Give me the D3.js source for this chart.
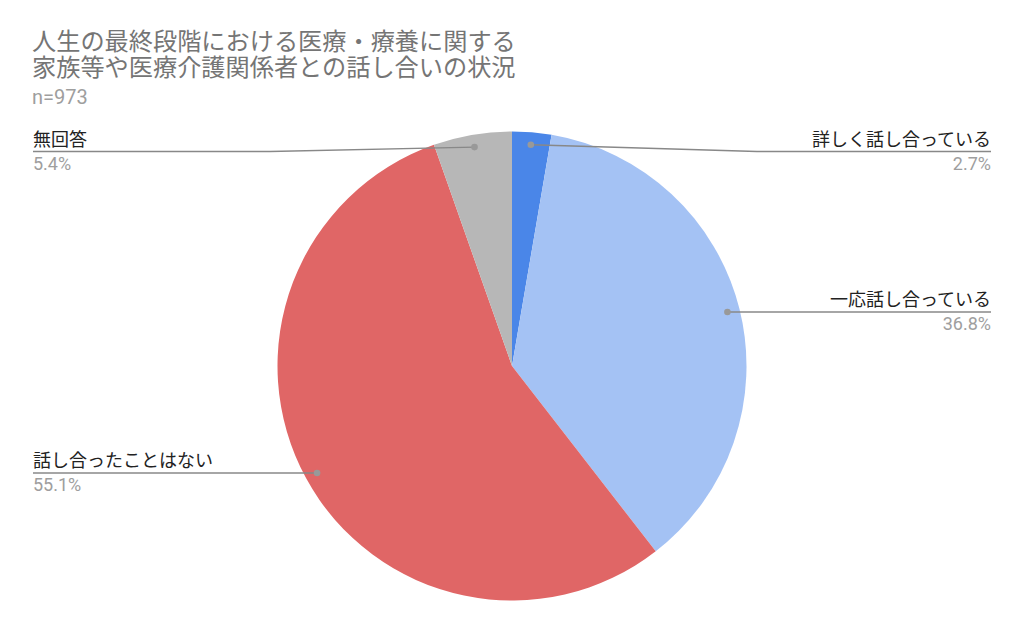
<!DOCTYPE html>
<html>
<head>
<meta charset="utf-8">
<script src="https://cdn.jsdelivr.net/npm/d3@7"></script>
<style>
  html, body { margin: 0; padding: 0; background: #fff; }
  svg { display: block; }
</style>
</head>
<body>
<svg id="chart" width="1024" height="633"></svg>
<script>
// Survey answers and their shares (%)
const categories = ["詳しく話し合っている", "一応話し合っている", "話し合ったことはない", "無回答"];
const values = [2.7, 36.8, 55.1, 5.4];
const colors = ["#4a86e8", "#a4c2f4", "#e06666", "#b7b7b7"];
const titleLines = ["人生の最終段階における医療・療養に関する", "家族等や医療介護関係者との話し合いの状況"];
const subtitle = "n=973";

const font = "'Roboto', 'Noto Sans CJK JP', sans-serif";
const svg = d3.select("#chart");

// Title block
svg.append("g").selectAll("text").data(titleLines).join("text")
  .attr("x", 32).attr("y", (d, i) => 50 + i * 25.5)
  .attr("font-family", font).attr("font-size", 24.2).attr("fill", "#757575")
  .text(d => d);
svg.append("text").attr("x", 32).attr("y", 104)
  .attr("font-family", font).attr("font-size", 20).attr("fill", "#9e9e9e")
  .text(subtitle);

// Pie
const cx = 512, cy = 366, r = 234.5;
const pie = d3.pie().sort(null).value(d => d.v);
const arcs = pie(categories.map((c, i) => ({ c, v: values[i], col: colors[i] })));
const arc = d3.arc().innerRadius(0).outerRadius(r);
const dotArc = d3.arc().innerRadius(r * 0.947).outerRadius(r * 0.947);

const g = svg.append("g").attr("transform", `translate(${cx},${cy})`);
g.selectAll("path").data(arcs).join("path")
  .attr("d", arc).attr("fill", d => d.data.col);

// Label layout: side and label line height for each slice
const labelSpec = [
  { side: "right", lineY: 151.5 },
  { side: "right", lineY: 312 },
  { side: "left", lineY: 473 },
  { side: "left", lineY: 151.5 }
];
const leftX = 33, rightX = 991;

const lab = svg.append("g");
arcs.forEach((a, i) => {
  const spec = labelSpec[i];
  const [dx, dy] = dotArc.centroid(a);
  const px = cx + dx, py = cy + dy;
  const endX = spec.side === "right" ? rightX : leftX;
  // Leader line: from dot, slanting to the label line if needed, then horizontal
  let pts;
  if (Math.abs(py - spec.lineY) > 2) {
    const kneeX = spec.side === "right" ? 757 : 270;
    pts = [[px, py], [kneeX, spec.lineY], [endX, spec.lineY]];
  } else {
    pts = [[px, spec.lineY], [endX, spec.lineY]];
  }
  lab.append("path")
    .attr("d", d3.line()(pts))
    .attr("fill", "none").attr("stroke", "#888").attr("stroke-width", 1.3);
  lab.append("circle").attr("cx", pts[0][0]).attr("cy", pts[0][1]).attr("r", 3.3).attr("fill", "#999");
  const anchor = spec.side === "right" ? "end" : "start";
  lab.append("text").attr("x", endX).attr("y", spec.lineY - 6)
    .attr("text-anchor", anchor).attr("font-family", font).attr("font-size", 18)
    .attr("fill", "#222").text(a.data.c);
  lab.append("text").attr("x", endX).attr("y", spec.lineY + 18)
    .attr("text-anchor", anchor).attr("font-family", font).attr("font-size", 18)
    .attr("fill", "#9e9e9e").text(d3.format(".1f")(a.data.v) + "%");
});
</script>
</body>
</html>
